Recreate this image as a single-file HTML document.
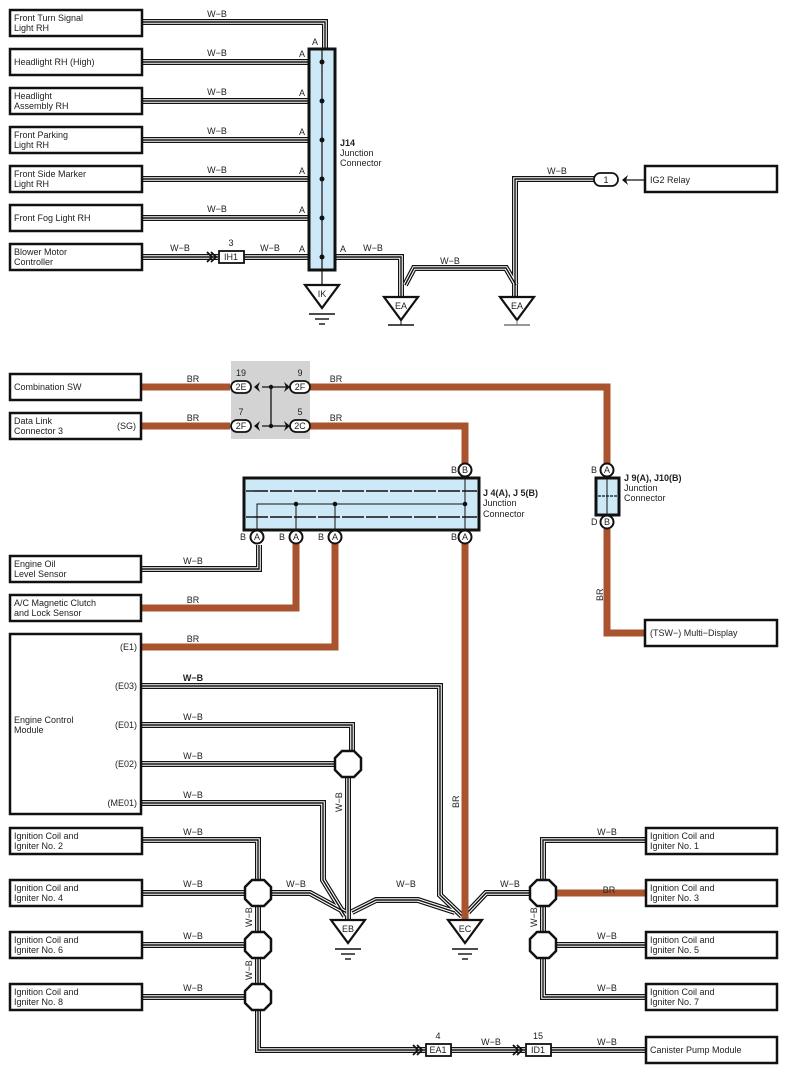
<!DOCTYPE html>
<html><head><meta charset="utf-8"><style>
html,body{margin:0;padding:0;background:#fff}
svg{display:block}
text{font-family:"Liberation Sans",sans-serif;font-size:9px;fill:#222}
.o{fill:none;stroke:#111;stroke-width:6}
.i{fill:none;stroke:#fff;stroke-width:3.6}
.c{fill:none;stroke:#111;stroke-width:1.4}
.br{fill:none;stroke:#a9532f;stroke-width:7}
.bx{fill:#fff;stroke:#111;stroke-width:2.5}
.oct{fill:#fff;stroke:#111;stroke-width:2.5}
.tri{fill:#fff;stroke:#111;stroke-width:2.2}
.g{stroke:#111;stroke-width:1.4}
</style></head><body>
<svg width="787" height="1073" viewBox="0 0 787 1073" xmlns="http://www.w3.org/2000/svg">
<defs>
<path id="w1" d="M142 22 H325 V49"/>
<path id="w2" d="M142 62 H309"/>
<path id="w3" d="M142 101 H309"/>
<path id="w4" d="M142 140 H309"/>
<path id="w5" d="M142 179 H309"/>
<path id="w6" d="M142 218 H309"/>
<path id="w7a" d="M142 257 H218"/>
<path id="w7b" d="M244 257 H309"/>
<path id="w8" d="M335 257 H401 V298"/>
<path id="w9" d="M405 285 L414 268 H506 L516 285"/>
<path id="w10" d="M598 179 H515 V298"/>
<path id="w11" d="M142 569 H259 V545"/>
<path id="w12" d="M142 686 H440 V895 L462 916"/>
<path id="w13" d="M142 725 H352 V752"/>
<path id="w14" d="M142 764 H336"/>
<path id="w15" d="M348 777 V920"/>
<path id="w16" d="M142 803 H323 V880 L345 916"/>
<path id="w17" d="M142 840 H258 V881"/>
<path id="w18" d="M142 893 H246"/>
<path id="w19" d="M271 893 H310 L345 912"/>
<path id="w20" d="M258 906 V933"/>
<path id="w21" d="M258 958 V985"/>
<path id="w22" d="M142 945 H246"/>
<path id="w23" d="M142 997 H246"/>
<path id="w24" d="M258 1010 V1050 H425"/>
<path id="w25" d="M451 1050 H525"/>
<path id="w26" d="M551 1050 H645"/>
<path id="w27" d="M352 912 L376 900 H418 L455 912"/>
<path id="w28" d="M530 893 H486 L468 912"/>
<path id="w29" d="M645 840 H543 V881"/>
<path id="w30" d="M645 945 H556"/>
<path id="w31" d="M645 997 H543 V958"/>
<path id="w32" d="M543 906 V933"/>
</defs>

<!-- W-B wires -->
<g class="o">
<use href="#w1"/><use href="#w2"/><use href="#w3"/><use href="#w4"/><use href="#w5"/><use href="#w6"/><use href="#w7a"/><use href="#w7b"/><use href="#w8"/><use href="#w9"/><use href="#w10"/><use href="#w11"/><use href="#w12"/><use href="#w13"/><use href="#w14"/><use href="#w15"/><use href="#w16"/><use href="#w17"/><use href="#w18"/><use href="#w19"/><use href="#w20"/><use href="#w21"/><use href="#w22"/><use href="#w23"/><use href="#w24"/><use href="#w25"/><use href="#w26"/><use href="#w27"/><use href="#w28"/><use href="#w29"/><use href="#w30"/><use href="#w31"/><use href="#w32"/>
</g>
<g class="i">
<use href="#w1"/><use href="#w2"/><use href="#w3"/><use href="#w4"/><use href="#w5"/><use href="#w6"/><use href="#w7a"/><use href="#w7b"/><use href="#w8"/><use href="#w9"/><use href="#w10"/><use href="#w11"/><use href="#w12"/><use href="#w13"/><use href="#w14"/><use href="#w15"/><use href="#w16"/><use href="#w17"/><use href="#w18"/><use href="#w19"/><use href="#w20"/><use href="#w21"/><use href="#w22"/><use href="#w23"/><use href="#w24"/><use href="#w25"/><use href="#w26"/><use href="#w27"/><use href="#w28"/><use href="#w29"/><use href="#w30"/><use href="#w31"/><use href="#w32"/>
</g>
<g class="c">
<use href="#w1"/><use href="#w2"/><use href="#w3"/><use href="#w4"/><use href="#w5"/><use href="#w6"/><use href="#w7a"/><use href="#w7b"/><use href="#w8"/><use href="#w9"/><use href="#w10"/><use href="#w11"/><use href="#w12"/><use href="#w13"/><use href="#w14"/><use href="#w15"/><use href="#w16"/><use href="#w17"/><use href="#w18"/><use href="#w19"/><use href="#w20"/><use href="#w21"/><use href="#w22"/><use href="#w23"/><use href="#w24"/><use href="#w25"/><use href="#w26"/><use href="#w27"/><use href="#w28"/><use href="#w29"/><use href="#w30"/><use href="#w31"/><use href="#w32"/>
</g>

<!-- BR wires -->
<g class="br">
<path d="M141 387 H230"/><path d="M310 387 H607 V463"/>
<path d="M141 426 H230"/><path d="M310 426 H465 V463"/>
<path d="M607 529 V633 H645"/>
<path d="M296 544 V608 H141"/>
<path d="M335 544 V647 H141"/>
<path d="M465 544 V922"/>
<path d="M556 893 H646"/>
</g>

<!-- Top boxes -->
<g class="bx">
<rect x="10" y="10" width="132" height="26"/>
<rect x="10" y="49" width="132" height="26"/>
<rect x="10" y="88" width="132" height="26"/>
<rect x="10" y="127" width="132" height="26"/>
<rect x="10" y="166" width="132" height="26"/>
<rect x="10" y="205" width="132" height="26"/>
<rect x="10" y="244" width="132" height="26"/>
<rect x="645" y="166" width="132" height="26"/>
<rect x="10" y="374" width="131" height="26"/>
<rect x="10" y="413" width="131" height="26"/>
<rect x="10" y="556" width="131" height="26"/>
<rect x="10" y="595" width="131" height="26"/>
<rect x="10" y="634" width="131" height="180"/>
<rect x="645" y="620" width="132" height="26"/>
<rect x="10" y="828" width="132" height="26"/>
<rect x="10" y="880" width="132" height="26"/>
<rect x="10" y="932" width="132" height="26"/>
<rect x="10" y="984" width="132" height="26"/>
<rect x="646" y="828" width="131" height="26"/>
<rect x="646" y="880" width="131" height="26"/>
<rect x="646" y="932" width="131" height="26"/>
<rect x="646" y="984" width="131" height="26"/>
<rect x="646" y="1037" width="131" height="26"/>
</g>
<g>
<text x="14" y="21">Front Turn Signal</text><text x="14" y="31">Light RH</text>
<text x="14" y="65">Headlight RH (High)</text>
<text x="14" y="99">Headlight</text><text x="14" y="109">Assembly RH</text>
<text x="14" y="138">Front Parking</text><text x="14" y="148">Light RH</text>
<text x="14" y="177">Front Side Marker</text><text x="14" y="187">Light RH</text>
<text x="14" y="221">Front Fog Light RH</text>
<text x="14" y="255">Blower Motor</text><text x="14" y="265">Controller</text>
<text x="650" y="183">IG2 Relay</text>
<text x="14" y="390">Combination SW</text>
<text x="14" y="424">Data Link</text><text x="14" y="434">Connector 3</text><text x="117" y="429">(SG)</text>
<text x="14" y="567">Engine Oil</text><text x="14" y="577">Level Sensor</text>
<text x="14" y="606">A/C Magnetic Clutch</text><text x="14" y="616">and Lock Sensor</text>
<text x="14" y="723">Engine Control</text><text x="14" y="733">Module</text>
<text x="137" y="650" text-anchor="end">(E1)</text>
<text x="137" y="689" text-anchor="end">(E03)</text>
<text x="137" y="728" text-anchor="end">(E01)</text>
<text x="137" y="767" text-anchor="end">(E02)</text>
<text x="137" y="806" text-anchor="end">(ME01)</text>
<text x="650" y="636">(TSW−)  Multi−Display</text>
<text x="14" y="839">Ignition Coil and</text><text x="14" y="849">Igniter No. 2</text>
<text x="14" y="891">Ignition Coil and</text><text x="14" y="901">Igniter No. 4</text>
<text x="14" y="943">Ignition Coil and</text><text x="14" y="953">Igniter No. 6</text>
<text x="14" y="995">Ignition Coil and</text><text x="14" y="1005">Igniter No. 8</text>
<text x="650" y="839">Ignition Coil and</text><text x="650" y="849">Igniter No. 1</text>
<text x="650" y="891">Ignition Coil and</text><text x="650" y="901">Igniter No. 3</text>
<text x="650" y="943">Ignition Coil and</text><text x="650" y="953">Igniter No. 5</text>
<text x="650" y="995">Ignition Coil and</text><text x="650" y="1005">Igniter No. 7</text>
<text x="650" y="1053">Canister Pump Module</text>
</g>

<!-- J14 -->
<rect x="309" y="49" width="26" height="221" fill="#cde9f8" stroke="#111" stroke-width="3"/>
<line x1="322" y1="49" x2="322" y2="286" stroke="#111" stroke-width="1.2"/>
<g fill="#111"><circle cx="322" cy="62" r="2.5"/><circle cx="322" cy="101" r="2.5"/><circle cx="322" cy="140" r="2.5"/><circle cx="322" cy="179" r="2.5"/><circle cx="322" cy="218" r="2.5"/><circle cx="322" cy="257" r="2.5"/></g>
<g fill="#111" stroke="none"><path d="M309 62 h1"/></g>
<text x="340" y="146" font-weight="bold">J14</text><text x="340" y="156">Junction</text><text x="340" y="166">Connector</text>
<text x="312" y="45">A</text>
<g><text x="299" y="57">A</text><text x="299" y="96">A</text><text x="299" y="135">A</text><text x="299" y="174">A</text><text x="299" y="213">A</text><text x="299" y="252">A</text><text x="340" y="252">A</text></g>
<g text-anchor="middle">
<text x="217" y="17">W−B</text><text x="217" y="56">W−B</text><text x="217" y="95">W−B</text><text x="217" y="134">W−B</text><text x="217" y="173">W−B</text><text x="217" y="212">W−B</text>
<text x="180" y="251">W−B</text><text x="270" y="251">W−B</text><text x="373" y="251">W−B</text><text x="450" y="264">W−B</text><text x="557" y="174">W−B</text>
<text x="231" y="246">3</text>
</g>
<rect x="219" y="251" width="25" height="12" fill="#fff" stroke="#111" stroke-width="1.8"/>
<text x="231" y="260" text-anchor="middle">IH1</text>
<path d="M207 252 l5 5 l-5 5 M211 252 l5 5 l-5 5" fill="none" stroke="#111" stroke-width="1.8"/>
<rect x="594" y="173" width="24" height="13" rx="6.5" fill="#fff" stroke="#111" stroke-width="1.8"/>
<text x="606" y="183" text-anchor="middle">1</text>
<path d="M628 175 l-6 5 l6 5 l-2 -5 z" fill="#111"/><line x1="624" y1="180" x2="645" y2="180" stroke="#111" stroke-width="1.2"/>

<!-- grounds -->
<g>
<polygon class="tri" points="305,285 339,285 322,308"/><text x="322" y="297" text-anchor="middle">IK</text>
<line class="g" x1="309" y1="314" x2="335" y2="314"/><line class="g" x1="315" y1="319" x2="329" y2="319"/><line class="g" x1="319" y1="324" x2="325" y2="324"/>
<polygon class="tri" points="384,297 418,297 401,320"/><text x="401" y="309" text-anchor="middle">EA</text>
<line class="g" x1="388" y1="325" x2="414" y2="325"/><line x1="401" y1="320" x2="401" y2="325" stroke="#111"/>
<polygon class="tri" points="500,297 534,297 517,320"/><text x="517" y="309" text-anchor="middle">EA</text>
<line x1="504" y1="325" x2="530" y2="325" stroke="#777" stroke-width="1.4"/><line x1="517" y1="320" x2="517" y2="325" stroke="#777"/>
<polygon class="tri" points="331,920 365,920 348,943"/><text x="348" y="932" text-anchor="middle">EB</text>
<line class="g" x1="335" y1="949" x2="361" y2="949"/><line class="g" x1="341" y1="954" x2="355" y2="954"/><line class="g" x1="345" y1="959" x2="351" y2="959"/>
<polygon class="tri" points="448,920 482,920 465,943"/><text x="465" y="932" text-anchor="middle">EC</text>
<line class="g" x1="452" y1="949" x2="478" y2="949"/><line class="g" x1="458" y1="954" x2="472" y2="954"/><line class="g" x1="462" y1="959" x2="468" y2="959"/>
</g>

<!-- grey junction block -->
<rect x="231" y="361" width="79" height="78" fill="#d3d3d3"/>
<line x1="262" y1="387" x2="288" y2="387" stroke="#111" stroke-width="1.3"/>
<line x1="262" y1="426" x2="288" y2="426" stroke="#111" stroke-width="1.3"/>
<line x1="271" y1="387" x2="271" y2="426" stroke="#111" stroke-width="1.3"/>
<circle cx="271" cy="387" r="2.2" fill="#111"/><circle cx="271" cy="426" r="2.2" fill="#111"/>
<g fill="#111">
<path d="M254 382 l6 5 l-6 5 l2 -5z" transform="rotate(180 257 387)"/>
<path d="M284 382 l6 5 l-6 5 l2 -5z"/>
<path d="M254 421 l6 5 l-6 5 l2 -5z" transform="rotate(180 257 426)"/>
<path d="M284 421 l6 5 l-6 5 l2 -5z"/>
</g>
<g fill="#fff" stroke="#111" stroke-width="1.8">
<rect x="231" y="381" width="20" height="12" rx="6"/><rect x="290" y="381" width="20" height="12" rx="6"/>
<rect x="231" y="420" width="20" height="12" rx="6"/><rect x="290" y="420" width="20" height="12" rx="6"/>
</g>
<g text-anchor="middle">
<text x="241" y="390">2E</text><text x="300" y="390">2F</text><text x="241" y="429">2F</text><text x="300" y="429">2C</text>
<text x="241" y="376">19</text><text x="300" y="376">9</text><text x="241" y="415">7</text><text x="300" y="415">5</text>
<text x="193" y="382">BR</text><text x="193" y="421">BR</text><text x="336" y="382">BR</text><text x="336" y="421">BR</text>
<text x="193" y="603">BR</text><text x="193" y="642">BR</text><text x="609" y="893">BR</text>
<text x="193" y="564">W−B</text><text x="193" y="681" font-weight="bold">W−B</text><text x="193" y="720">W−B</text><text x="193" y="759">W−B</text><text x="193" y="798">W−B</text>
<text x="193" y="835">W−B</text><text x="193" y="887">W−B</text><text x="193" y="939">W−B</text><text x="193" y="991">W−B</text>
<text x="296" y="887">W−B</text><text x="406" y="887">W−B</text><text x="510" y="887">W−B</text>
<text x="607" y="835">W−B</text><text x="607" y="939">W−B</text><text x="607" y="991">W−B</text><text x="607" y="1045">W−B</text>
<text x="491" y="1045">W−B</text><text x="438" y="1039">4</text><text x="538" y="1039">15</text>
</g>
<g font-size="9">
<text transform="translate(342 812) rotate(-90)">W−B</text>
<text transform="translate(459 808) rotate(-90)">BR</text>
<text transform="translate(603 601) rotate(-90)">BR</text>
<text transform="translate(252 927) rotate(-90)">W−B</text>
<text transform="translate(252 980) rotate(-90)">W−B</text>
<text transform="translate(537 927) rotate(-90)">W−B</text>
</g>

<!-- J4/J5 -->
<rect x="244" y="478" width="235" height="52" fill="#cde9f8" stroke="#111" stroke-width="3"/>
<line x1="246" y1="491" x2="477" y2="491" stroke="#111" stroke-width="1.4" stroke-dasharray="22 2"/>
<line x1="246" y1="517" x2="477" y2="517" stroke="#111" stroke-width="1.4" stroke-dasharray="22 2"/>
<path d="M257 530 V504 H465 M296 504 V530 M335 504 V530 M465 478 V530" fill="none" stroke="#111" stroke-width="1"/>
<g fill="#111"><circle cx="296" cy="504" r="2.3"/><circle cx="335" cy="504" r="2.3"/><circle cx="465" cy="504" r="2.3"/></g>
<text x="483" y="496" font-weight="bold">J 4(A), J 5(B)</text><text x="483" y="506">Junction</text><text x="483" y="517">Connector</text>
<g fill="#fff" stroke="#111" stroke-width="2">
<circle cx="465" cy="470" r="6.5"/><circle cx="257" cy="537" r="6.5"/><circle cx="296" cy="537" r="6.5"/><circle cx="335" cy="537" r="6.5"/><circle cx="465" cy="537" r="6.5"/>
<circle cx="607" cy="470" r="6.5"/><circle cx="607" cy="522" r="6.5"/>
</g>
<g text-anchor="middle" font-size="8">
<text x="465" y="473">B</text><text x="257" y="540">A</text><text x="296" y="540">A</text><text x="335" y="540">A</text><text x="465" y="540">A</text>
<text x="607" y="473">A</text><text x="607" y="525">B</text>
</g>
<text x="451" y="473">B</text><text x="240" y="540">B</text><text x="279" y="540">B</text><text x="318" y="540">B</text><text x="451" y="540">B</text>
<text x="591" y="473">B</text><text x="591" y="525">D</text>

<!-- J9/J10 -->
<rect x="596" y="478" width="23" height="37" fill="#cde9f8" stroke="#111" stroke-width="3"/>
<line x1="598" y1="496" x2="617" y2="496" stroke="#111" stroke-width="1.3" stroke-dasharray="3 1"/>
<line x1="607" y1="478" x2="607" y2="515" stroke="#111" stroke-width="1"/>
<text x="624" y="481" font-weight="bold">J 9(A), J10(B)</text><text x="624" y="491">Junction</text><text x="624" y="501">Connector</text>

<!-- octagons -->
<g class="oct">
<polygon points="342,751 354,751 361,758 361,770 354,777 342,777 335,770 335,758"/>
<polygon points="252,880 264,880 271,887 271,899 264,906 252,906 245,899 245,887"/>
<polygon points="252,932 264,932 271,939 271,951 264,958 252,958 245,951 245,939"/>
<polygon points="252,984 264,984 271,991 271,1003 264,1010 252,1010 245,1003 245,991"/>
<polygon points="537,880 549,880 556,887 556,899 549,906 537,906 530,899 530,887"/>
<polygon points="537,932 549,932 556,939 556,951 549,958 537,958 530,951 530,939"/>
</g>

<!-- EA1 / ID1 -->
<rect x="426" y="1044" width="25" height="12" fill="#fff" stroke="#111" stroke-width="1.8"/>
<text x="438" y="1053" text-anchor="middle">EA1</text>
<path d="M413 1045 l5 5 l-5 5 M417 1045 l5 5 l-5 5" fill="none" stroke="#111" stroke-width="1.8"/>
<rect x="526" y="1044" width="25" height="12" fill="#fff" stroke="#111" stroke-width="1.8"/>
<text x="538" y="1053" text-anchor="middle">ID1</text>
<path d="M513 1045 l5 5 l-5 5 M517 1045 l5 5 l-5 5" fill="none" stroke="#111" stroke-width="1.8"/>
</svg>
</body></html>
